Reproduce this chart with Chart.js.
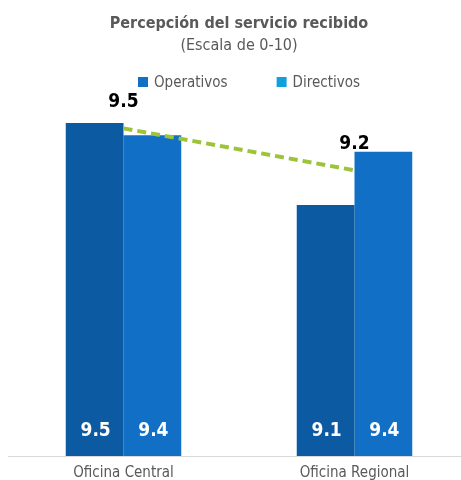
<!DOCTYPE html>
<html>
  <head>
    <meta charset="utf-8">
    <title>Percepción del servicio recibido</title>
    <script src="https://cdn.jsdelivr.net/npm/chart.js@4.4.1/dist/chart.umd.min.js"></script>
    <style>
      body { margin: 0; overflow: hidden; background: #fff; }
      #wrap { width: 470px; height: 480px; }
    </style>
  </head>
  <body>
    <div id="wrap"><canvas id="myChart"></canvas></div>
    <script>
      const categories = ["Oficina Central", "Oficina Regional"];
      const operativos = [9.5, 9.1];
      const directivos = [9.44, 9.36];
      const promedio = [9.5, 9.2];

      const FONT = "'Liberation Sans Narrow', 'DejaVu Sans Condensed', 'Roboto', sans-serif";

      // draws the value labels (inside bars at the bottom, above line points)
      const valueLabels = {
        id: "valueLabels",
        afterDatasetsDraw(chart) {
          const ctx = chart.ctx;
          ctx.save();
          ctx.textAlign = "center";
          ctx.textBaseline = "middle";
          chart.data.datasets.forEach((ds, i) => {
            const meta = chart.getDatasetMeta(i);
            meta.data.forEach((el, j) => {
              const txt = ds.data[j].toFixed(1);
              ctx.font = "bold 19px " + FONT;
              if (ds.type === "line") {
                ctx.fillStyle = "#000";
                ctx.fillText(txt, el.x, el.y - 26);
              } else {
                ctx.fillStyle = "#fff";
                ctx.fillText(txt, el.x + 1, chart.chartArea.bottom - 25);
              }
            });
          });
          ctx.restore();
        },
      };

      // legend drawn by hand: the original has a wide gap and sits right of centre
      const legendRow = {
        id: "legendRow",
        afterDraw(chart) {
          const ctx = chart.ctx;
          const items = chart.data.datasets.filter((ds) => ds.type === "bar");
          const box = 10, gapText = 6, gapItem = 49;
          ctx.save();
          ctx.font = "15px " + FONT;
          ctx.textBaseline = "middle";
          ctx.textAlign = "left";
          const widths = items.map((ds) => box + gapText + ctx.measureText(ds.label).width);
          const total = widths.reduce((a, b) => a + b, 0) + gapItem * (items.length - 1);
          let x = chart.width / 2 + 14 - total / 2;
          const y = 82;
          items.forEach((ds, i) => {
            ctx.fillStyle = ds.legendColor;
            ctx.fillRect(x, y - box / 2, box, box);
            ctx.fillStyle = "#595959";
            ctx.fillText(ds.label, x + box + gapText, y + 1);
            x += widths[i] + gapItem;
          });
          ctx.restore();
        },
      };

      const ctx = document.getElementById("myChart").getContext("2d");
      new Chart(ctx, {
        data: {
          labels: categories,
          datasets: [
            {
              type: "line",
              label: "Promedio",
              data: promedio,
              yAxisID: "y2",
              borderColor: "#9dc33b",
              borderWidth: 4,
              borderDash: [9, 5],
              pointRadius: 0,
              fill: false,
              order: 0,
            },
            {
              type: "bar",
              label: "Operativos",
              data: operativos,
              backgroundColor: "#0b5aa2",
              legendColor: "#1170c6",
              categoryPercentage: 0.5,
              barPercentage: 1.0,
              order: 1,
            },
            {
              type: "bar",
              label: "Directivos",
              data: directivos,
              backgroundColor: "#1170c6",
              legendColor: "#12a0dc",
              categoryPercentage: 0.5,
              barPercentage: 1.0,
              order: 1,
            },
          ],
        },
        options: {
          responsive: true,
          maintainAspectRatio: false,
          animation: false,
          layout: { padding: { left: 8, right: 0, top: 0, bottom: -2 } },
          plugins: {
            title: {
              display: true,
              text: "Percepción del servicio recibido",
              color: "#595959",
              font: { family: FONT, size: 16, weight: "bold" },
              padding: { top: 14, bottom: 0 },
            },
            subtitle: {
              display: true,
              text: "(Escala de 0-10)",
              color: "#595959",
              font: { family: FONT, size: 16 },
              padding: { top: 3, bottom: 44.6 },
            },
            legend: { display: false },
            tooltip: { enabled: false },
          },
          scales: {
            x: {
              grid: { display: false },
              border: { color: "#d9d9d9", width: 1 },
              ticks: {
                color: "#595959",
                font: { family: FONT, size: 15 },
                padding: 0,
              },
            },
            y: {
              display: false,
              min: 7.876,
              max: 9.612,
            },
            y2: {
              display: false,
              min: 7.156,
              max: 9.703,
            },
          },
        },
        plugins: [valueLabels, legendRow],
      });
    </script>
  </body>
</html>
